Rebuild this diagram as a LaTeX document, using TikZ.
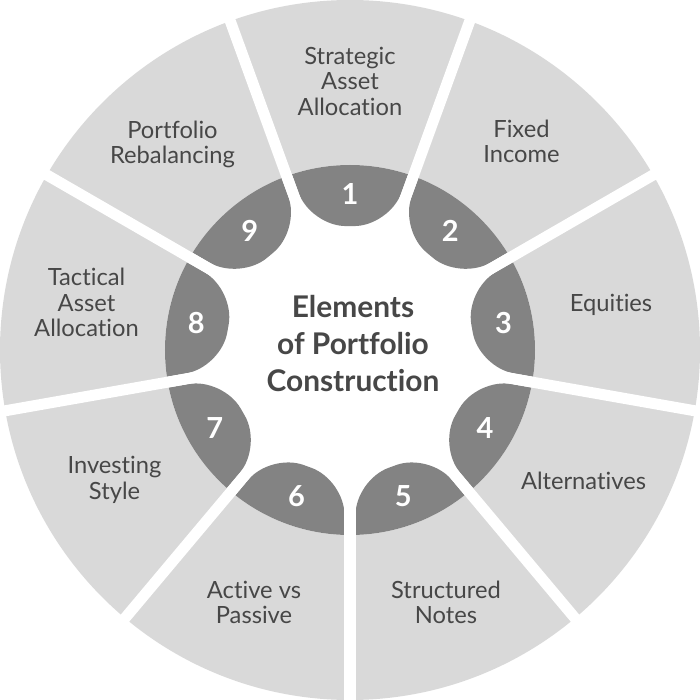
\documentclass[tikz,border=0pt]{standalone}
\usepackage{fontspec}
\setmainfont{Lato}[Ligatures={NoCommon,NoContextual}]

\definecolor{ringgray}{HTML}{D9D9D9}
\definecolor{tabgray}{HTML}{838383}
\definecolor{textgray}{HTML}{474747}

\begin{document}
\begin{tikzpicture}[
    tab/.style={
        fill=tabgray,
        rounded corners=7mm
    },
    gap/.style={
        draw=white,
        line width=2.2mm
    },
    element/.style={
        text=textgray,
        align=center,
        inner sep=0pt,
        font=\fontsize{13.5}{14.5}\selectfont
    },
    num/.style={
        text=white,
        inner sep=0pt,
        font=\fontsize{16.5}{18}\selectfont\bfseries
    }
]

\useasboundingbox (-7,-7) rectangle (7,7);

% outer ring and white centre
\fill[ringgray] (0,0) circle (7);
\fill[white] (0,0) circle (3.7);

% dark number tabs
\begin{scope}
    \clip (0,0) circle (3.7);
    \fill[tab] (108.74:5) -- (107.57:2.6) -- (72.43:2.6) -- (71.26:5) -- cycle;
    \fill[tab, rotate=-40] (108.74:5) -- (107.57:2.6) -- (72.43:2.6) -- (71.26:5) -- cycle;
    \fill[tab, rotate=-80] (108.74:5) -- (107.57:2.6) -- (72.43:2.6) -- (71.26:5) -- cycle;
    \fill[tab, rotate=-120] (108.74:5) -- (107.57:2.6) -- (72.43:2.6) -- (71.26:5) -- cycle;
    \fill[tab, rotate=-160] (108.74:5) -- (107.57:2.6) -- (72.43:2.6) -- (71.26:5) -- cycle;
    \fill[tab, rotate=-200] (108.74:5) -- (107.57:2.6) -- (72.43:2.6) -- (71.26:5) -- cycle;
    \fill[tab, rotate=-240] (108.74:5) -- (107.57:2.6) -- (72.43:2.6) -- (71.26:5) -- cycle;
    \fill[tab, rotate=-280] (108.74:5) -- (107.57:2.6) -- (72.43:2.6) -- (71.26:5) -- cycle;
    \fill[tab, rotate=-320] (108.74:5) -- (107.57:2.6) -- (72.43:2.6) -- (71.26:5) -- cycle;
\end{scope}

% white gaps between the segments
\coordinate (o) at (0,0);
\coordinate (g1) at (110:7.3);
\coordinate (g2) at (70:7.3);
\coordinate (g3) at (30:7.3);
\coordinate (g4) at (-10:7.3);
\coordinate (g5) at (-50:7.3);
\coordinate (g6) at (-90:7.3);
\coordinate (g7) at (-130:7.3);
\coordinate (g8) at (-170:7.3);
\coordinate (g9) at (150:7.3);

\draw[gap] (o) -- (g1);
\draw[gap] (o) -- (g2);
\draw[gap] (o) -- (g3);
\draw[gap] (o) -- (g4);
\draw[gap] (o) -- (g5);
\draw[gap] (o) -- (g6);
\draw[gap] (o) -- (g7);
\draw[gap] (o) -- (g8);
\draw[gap] (o) -- (g9);

% numbers
\node[num] (n1) at (90:3.12) {1};
\node[num] (n2) at (50:3.12) {2};
\node[num] (n3) at (10:3.12) {3};
\node[num] (n4) at (-30:3.12) {4};
\node[num] (n5) at (-70:3.12) {5};
\node[num] (n6) at (-110:3.12) {6};
\node[num] (n7) at (-150:3.12) {7};
\node[num] (n8) at (170:3.12) {8};
\node[num] (n9) at (130:3.12) {9};

% segment labels
\node[element] (strategic) at (0,5.38) {Strategic\\Asset\\Allocation};
\node[element] (fixed) at (3.43,4.17) {Fixed\\Income};
\node[element] (equities) at (5.22,0.9) {Equities};
\node[element] (alternatives) at (4.67,-2.62) {Alternatives};
\node[element] (structured) at (1.92,-5.05) {Structured\\Notes};
\node[element] (active) at (-1.92,-5.05) {Active vs\\Passive};
\node[element] (investing) at (-4.71,-2.6) {Investing\\Style};
\node[element] (tactical) at (-5.27,0.95) {Tactical\\Asset\\Allocation};
\node[element] (rebalancing) at (-3.55,4.11) {Portfolio\\Rebalancing};

% centre title
\node[text=textgray, align=center,
      font=\fontsize{17}{21}\selectfont\bfseries] (title) at (0.06,0.13)
    {Elements\\of Portfolio\\Construction};

\end{tikzpicture}
\end{document}
